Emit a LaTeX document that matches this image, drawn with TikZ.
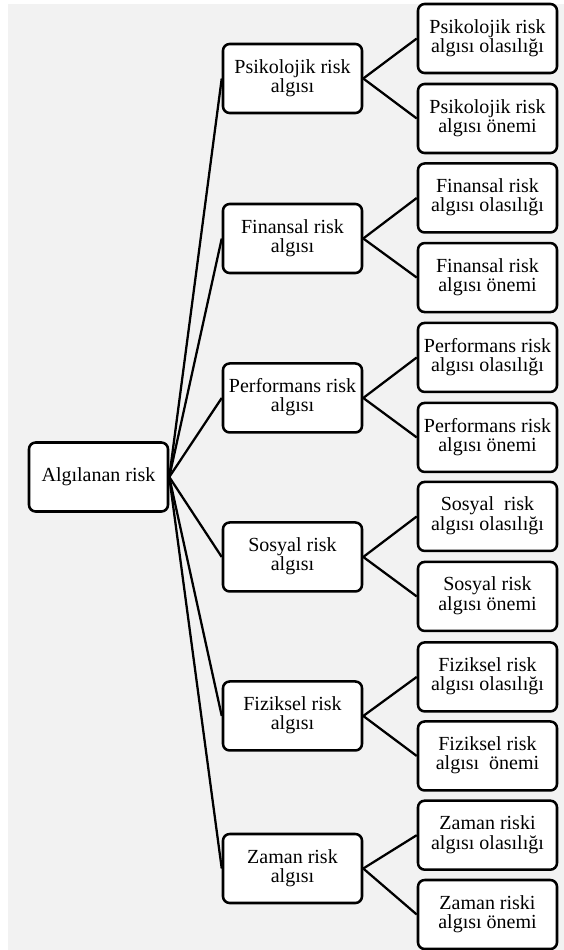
\documentclass[tikz,border=0pt]{standalone}
\usepackage{fontspec}
\setmainfont{Liberation Serif}
\usepackage{tikz}
\usetikzlibrary{positioning}
\definecolor{panelgray}{HTML}{F2F2F2}
\tikzset{
    riskbox/.style={
      rectangle,
      rounded corners=5pt,
      draw=black, line width=1.9pt,
      fill=white,
      minimum width=104.25pt,
      minimum height=51.75pt,
      inner sep=2pt,
      text centered,
      font=\fontsize{15}{13.7}\selectfont,
    },
}

\begin{document}
\begin{tikzpicture}[x=0.75pt, y=-0.75pt, line width=1.7pt]

    \useasboundingbox (0,0) rectangle (564,950);
    \fill[panelgray] (8,4) rectangle (564,950);

    \node[riskbox] (ROOT) at (98.5,477) {Algılanan risk};

    % middle column
    \node[riskbox] (PSI) at (292.5,78.5)
    {
      \begin{tabular}{@{}c@{}}
        Psikolojik risk \\
        algısı
      \end{tabular}
    };

    \node[riskbox,
    below of=PSI,
    node distance=120pt] (FIN)
    {
      \begin{tabular}{@{}c@{}}
        Finansal risk \\
        algısı
      \end{tabular}
    };

    \node[riskbox,
    below of=FIN,
    node distance=119.6pt] (PERF)
    {
      \begin{tabular}{@{}c@{}}
        Performans risk \\
        algısı
      \end{tabular}
    };

    \node[riskbox,
    below of=PERF,
    node distance=119.25pt] (SOS)
    {
      \begin{tabular}{@{}c@{}}
        Sosyal risk \\
        algısı
      \end{tabular}
    };

    \node[riskbox,
    below of=SOS,
    node distance=119.25pt] (FIZ)
    {
      \begin{tabular}{@{}c@{}}
        Fiziksel risk \\
        algısı
      \end{tabular}
    };

    \node[riskbox,
    below of=FIZ,
    node distance=114.4pt] (ZAM)
    {
      \begin{tabular}{@{}c@{}}
        Zaman risk \\
        algısı
      \end{tabular}
    };

    % right column
    \node[riskbox, right of=PSI, node distance=146.25pt, yshift=30pt] (PSI1)
    {
      \begin{tabular}{@{}c@{}}
        Psikolojik risk \\
        algısı olasılığı
      \end{tabular}
    };
    \node[riskbox, right of=PSI, node distance=146.25pt, yshift=-30pt] (PSI2)
    {
      \begin{tabular}{@{}c@{}}
        Psikolojik risk \\
        algısı önemi
      \end{tabular}
    };

    \node[riskbox, right of=FIN, node distance=146.25pt, yshift=30.4pt] (FIN1)
    {
      \begin{tabular}{@{}c@{}}
        Finansal risk \\
        algısı olasılığı
      \end{tabular}
    };
    \node[riskbox, right of=FIN, node distance=146.25pt, yshift=-29.3pt] (FIN2)
    {
      \begin{tabular}{@{}c@{}}
        Finansal risk \\
        algısı önemi
      \end{tabular}
    };

    \node[riskbox, right of=PERF, node distance=146.25pt, yshift=30.4pt] (PERF1)
    {
      \begin{tabular}{@{}c@{}}
        Performans risk \\
        algısı olasılığı
      \end{tabular}
    };
    \node[riskbox, right of=PERF, node distance=146.25pt, yshift=-29.6pt] (PERF2)
    {
      \begin{tabular}{@{}c@{}}
        Performans risk \\
        algısı önemi
      \end{tabular}
    };

    \node[riskbox, right of=SOS, node distance=146.25pt, yshift=30.4pt] (SOS1)
    {
      \begin{tabular}{@{}c@{}}
        Sosyal~ risk \\
        algısı olasılığı
      \end{tabular}
    };
    \node[riskbox, right of=SOS, node distance=146.25pt, yshift=-29.6pt] (SOS2)
    {
      \begin{tabular}{@{}c@{}}
        Sosyal risk \\
        algısı önemi
      \end{tabular}
    };

    \node[riskbox, right of=FIZ, node distance=146.25pt, yshift=29.3pt] (FIZ1)
    {
      \begin{tabular}{@{}c@{}}
        Fiziksel risk \\
        algısı olasılığı
      \end{tabular}
    };
    \node[riskbox, right of=FIZ, node distance=146.25pt, yshift=-30pt] (FIZ2)
    {
      \begin{tabular}{@{}c@{}}
        Fiziksel risk \\
        algısı~ önemi
      \end{tabular}
    };

    \node[riskbox, right of=ZAM, node distance=146.25pt, yshift=25pt] (ZAM1)
    {
      \begin{tabular}{@{}c@{}}
        Zaman riski \\
        algısı olasılığı
      \end{tabular}
    };
    \node[riskbox, right of=ZAM, node distance=146.25pt, yshift=-34.5pt] (ZAM2)
    {
      \begin{tabular}{@{}c@{}}
        Zaman riski \\
        algısı önemi
      \end{tabular}
    };

    \path
    (ROOT.east) edge (PSI.west)
    (ROOT.east) edge (FIN.west)
    (ROOT.east) edge (PERF.west)
    (ROOT.east) edge (SOS.west)
    (ROOT.east) edge (FIZ.west)
    (ROOT.east) edge (ZAM.west)

    (PSI.east)  edge (PSI1.west)
    (PSI.east)  edge (PSI2.west)
    (FIN.east)  edge (FIN1.west)
    (FIN.east)  edge (FIN2.west)
    (PERF.east) edge (PERF1.west)
    (PERF.east) edge (PERF2.west)
    (SOS.east)  edge (SOS1.west)
    (SOS.east)  edge (SOS2.west)
    (FIZ.east)  edge (FIZ1.west)
    (FIZ.east)  edge (FIZ2.west)
    (ZAM.east)  edge (ZAM1.west)
    (ZAM.east)  edge (ZAM2.west);

\end{tikzpicture}
\end{document}
